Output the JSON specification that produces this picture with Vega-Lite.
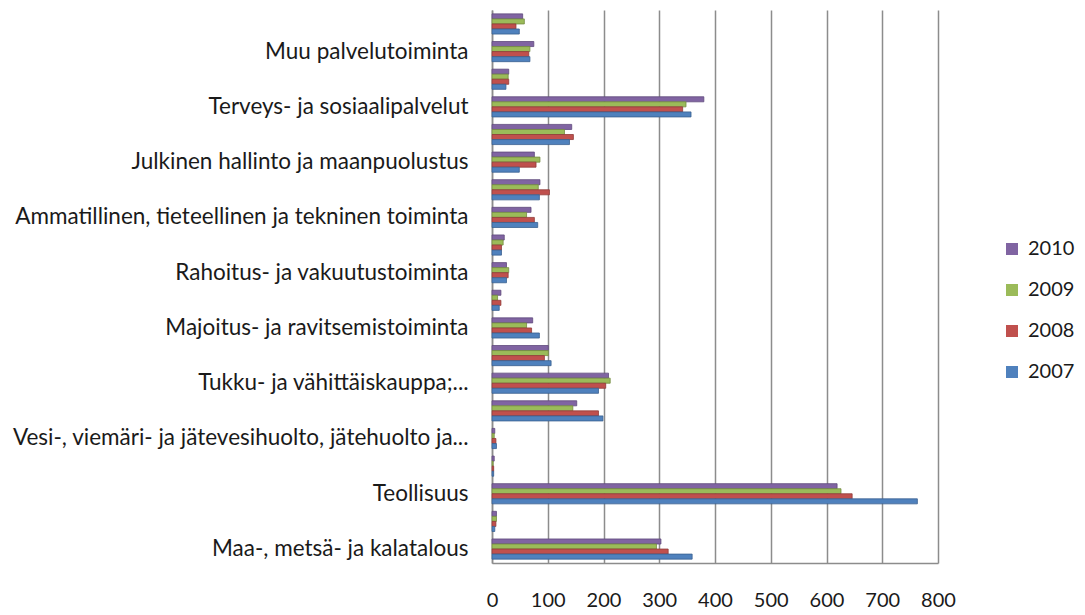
{
  "$schema": "https://vega.github.io/schema/vega-lite/v6.json",
  "autosize": "none",
  "padding": {"left": 492, "top": 10, "right": 147, "bottom": 52},
  "width": 446,
  "height": 553,
  "background": "white",
  "config": {
    "view": {"stroke": null},
    "font": "Lato",
    "axis": {"labelFont": "Lato", "labelColor": "#1a1a1a"},
    "legend": {"labelFont": "Lato", "labelColor": "#1a1a1a"}
  },
  "data": {
    "values": [
      {"toimiala": "Toimiala tuntematon", "vuosi": "2010", "arvo": 55},
      {"toimiala": "Toimiala tuntematon", "vuosi": "2009", "arvo": 58},
      {"toimiala": "Toimiala tuntematon", "vuosi": "2008", "arvo": 43},
      {"toimiala": "Toimiala tuntematon", "vuosi": "2007", "arvo": 49},
      {"toimiala": "Muu palvelutoiminta", "vuosi": "2010", "arvo": 75},
      {"toimiala": "Muu palvelutoiminta", "vuosi": "2009", "arvo": 68},
      {"toimiala": "Muu palvelutoiminta", "vuosi": "2008", "arvo": 66},
      {"toimiala": "Muu palvelutoiminta", "vuosi": "2007", "arvo": 68},
      {"toimiala": "Taiteet, viihde ja virkistys", "vuosi": "2010", "arvo": 30},
      {"toimiala": "Taiteet, viihde ja virkistys", "vuosi": "2009", "arvo": 29},
      {"toimiala": "Taiteet, viihde ja virkistys", "vuosi": "2008", "arvo": 30},
      {"toimiala": "Taiteet, viihde ja virkistys", "vuosi": "2007", "arvo": 25},
      {"toimiala": "Terveys- ja sosiaalipalvelut", "vuosi": "2010", "arvo": 380},
      {"toimiala": "Terveys- ja sosiaalipalvelut", "vuosi": "2009", "arvo": 348},
      {"toimiala": "Terveys- ja sosiaalipalvelut", "vuosi": "2008", "arvo": 342},
      {"toimiala": "Terveys- ja sosiaalipalvelut", "vuosi": "2007", "arvo": 357},
      {"toimiala": "Koulutus", "vuosi": "2010", "arvo": 143},
      {"toimiala": "Koulutus", "vuosi": "2009", "arvo": 130},
      {"toimiala": "Koulutus", "vuosi": "2008", "arvo": 146},
      {"toimiala": "Koulutus", "vuosi": "2007", "arvo": 139},
      {"toimiala": "Julkinen hallinto ja maanpuolustus", "vuosi": "2010", "arvo": 76},
      {"toimiala": "Julkinen hallinto ja maanpuolustus", "vuosi": "2009", "arvo": 86},
      {"toimiala": "Julkinen hallinto ja maanpuolustus", "vuosi": "2008", "arvo": 79},
      {"toimiala": "Julkinen hallinto ja maanpuolustus", "vuosi": "2007", "arvo": 49},
      {"toimiala": "Hallinto- ja tukipalvelutoiminta", "vuosi": "2010", "arvo": 86},
      {"toimiala": "Hallinto- ja tukipalvelutoiminta", "vuosi": "2009", "arvo": 83},
      {"toimiala": "Hallinto- ja tukipalvelutoiminta", "vuosi": "2008", "arvo": 103},
      {"toimiala": "Hallinto- ja tukipalvelutoiminta", "vuosi": "2007", "arvo": 85},
      {"toimiala": "Ammatillinen, tieteellinen ja tekninen toiminta", "vuosi": "2010", "arvo": 70},
      {"toimiala": "Ammatillinen, tieteellinen ja tekninen toiminta", "vuosi": "2009", "arvo": 62},
      {"toimiala": "Ammatillinen, tieteellinen ja tekninen toiminta", "vuosi": "2008", "arvo": 76},
      {"toimiala": "Ammatillinen, tieteellinen ja tekninen toiminta", "vuosi": "2007", "arvo": 82},
      {"toimiala": "Kiinteistöalan toiminta", "vuosi": "2010", "arvo": 22},
      {"toimiala": "Kiinteistöalan toiminta", "vuosi": "2009", "arvo": 20},
      {"toimiala": "Kiinteistöalan toiminta", "vuosi": "2008", "arvo": 17},
      {"toimiala": "Kiinteistöalan toiminta", "vuosi": "2007", "arvo": 17},
      {"toimiala": "Rahoitus- ja vakuutustoiminta", "vuosi": "2010", "arvo": 26},
      {"toimiala": "Rahoitus- ja vakuutustoiminta", "vuosi": "2009", "arvo": 30},
      {"toimiala": "Rahoitus- ja vakuutustoiminta", "vuosi": "2008", "arvo": 29},
      {"toimiala": "Rahoitus- ja vakuutustoiminta", "vuosi": "2007", "arvo": 26},
      {"toimiala": "Informaatio ja viestintä", "vuosi": "2010", "arvo": 16},
      {"toimiala": "Informaatio ja viestintä", "vuosi": "2009", "arvo": 10},
      {"toimiala": "Informaatio ja viestintä", "vuosi": "2008", "arvo": 16},
      {"toimiala": "Informaatio ja viestintä", "vuosi": "2007", "arvo": 13},
      {"toimiala": "Majoitus- ja ravitsemistoiminta", "vuosi": "2010", "arvo": 73},
      {"toimiala": "Majoitus- ja ravitsemistoiminta", "vuosi": "2009", "arvo": 62},
      {"toimiala": "Majoitus- ja ravitsemistoiminta", "vuosi": "2008", "arvo": 71},
      {"toimiala": "Majoitus- ja ravitsemistoiminta", "vuosi": "2007", "arvo": 85},
      {"toimiala": "Kuljetus ja varastointi", "vuosi": "2010", "arvo": 101},
      {"toimiala": "Kuljetus ja varastointi", "vuosi": "2009", "arvo": 101},
      {"toimiala": "Kuljetus ja varastointi", "vuosi": "2008", "arvo": 94},
      {"toimiala": "Kuljetus ja varastointi", "vuosi": "2007", "arvo": 106},
      {"toimiala": "Tukku- ja vähittäiskauppa;...", "vuosi": "2010", "arvo": 209},
      {"toimiala": "Tukku- ja vähittäiskauppa;...", "vuosi": "2009", "arvo": 212},
      {"toimiala": "Tukku- ja vähittäiskauppa;...", "vuosi": "2008", "arvo": 204},
      {"toimiala": "Tukku- ja vähittäiskauppa;...", "vuosi": "2007", "arvo": 191},
      {"toimiala": "Rakentaminen", "vuosi": "2010", "arvo": 152},
      {"toimiala": "Rakentaminen", "vuosi": "2009", "arvo": 145},
      {"toimiala": "Rakentaminen", "vuosi": "2008", "arvo": 191},
      {"toimiala": "Rakentaminen", "vuosi": "2007", "arvo": 199},
      {"toimiala": "Vesi-, viemäri- ja jätevesihuolto, jätehuolto ja...", "vuosi": "2010", "arvo": 5},
      {"toimiala": "Vesi-, viemäri- ja jätevesihuolto, jätehuolto ja...", "vuosi": "2009", "arvo": 4},
      {"toimiala": "Vesi-, viemäri- ja jätevesihuolto, jätehuolto ja...", "vuosi": "2008", "arvo": 7},
      {"toimiala": "Vesi-, viemäri- ja jätevesihuolto, jätehuolto ja...", "vuosi": "2007", "arvo": 8},
      {"toimiala": "Sähkö-, kaasu- ja lämpöhuolto", "vuosi": "2010", "arvo": 4},
      {"toimiala": "Sähkö-, kaasu- ja lämpöhuolto", "vuosi": "2009", "arvo": 2},
      {"toimiala": "Sähkö-, kaasu- ja lämpöhuolto", "vuosi": "2008", "arvo": 3},
      {"toimiala": "Sähkö-, kaasu- ja lämpöhuolto", "vuosi": "2007", "arvo": 3},
      {"toimiala": "Teollisuus", "vuosi": "2010", "arvo": 619},
      {"toimiala": "Teollisuus", "vuosi": "2009", "arvo": 626},
      {"toimiala": "Teollisuus", "vuosi": "2008", "arvo": 646},
      {"toimiala": "Teollisuus", "vuosi": "2007", "arvo": 763},
      {"toimiala": "Kaivostoiminta ja louhinta", "vuosi": "2010", "arvo": 8},
      {"toimiala": "Kaivostoiminta ja louhinta", "vuosi": "2009", "arvo": 8},
      {"toimiala": "Kaivostoiminta ja louhinta", "vuosi": "2008", "arvo": 7},
      {"toimiala": "Kaivostoiminta ja louhinta", "vuosi": "2007", "arvo": 5},
      {"toimiala": "Maa-, metsä- ja kalatalous", "vuosi": "2010", "arvo": 303},
      {"toimiala": "Maa-, metsä- ja kalatalous", "vuosi": "2009", "arvo": 295},
      {"toimiala": "Maa-, metsä- ja kalatalous", "vuosi": "2008", "arvo": 316},
      {"toimiala": "Maa-, metsä- ja kalatalous", "vuosi": "2007", "arvo": 359}
    ]
  },
  "mark": {"type": "bar", "strokeWidth": 0.8},
  "encoding": {
    "y": {
      "field": "toimiala",
      "type": "nominal",
      "sort": null,
      "scale": {"paddingInner": 0.27, "paddingOuter": 0.14},
      "axis": {
        "title": null,
        "ticks": false,
        "domain": true,
        "domainColor": "#8c8c8c",
        "domainWidth": 1.5,
        "grid": false,
        "labelFontSize": 22.5,
        "labelPadding": 24,
        "labelLimit": 600,
        "labelExpr": "(datum.value == 'Toimiala tuntematon' || datum.value == 'Taiteet, viihde ja virkistys' || datum.value == 'Koulutus' || datum.value == 'Hallinto- ja tukipalvelutoiminta' || datum.value == 'Kiinteistöalan toiminta' || datum.value == 'Informaatio ja viestintä' || datum.value == 'Kuljetus ja varastointi' || datum.value == 'Rakentaminen' || datum.value == 'Sähkö-, kaasu- ja lämpöhuolto' || datum.value == 'Kaivostoiminta ja louhinta') ? '' : datum.label"
      }
    },
    "yOffset": {
      "field": "vuosi",
      "type": "nominal",
      "scale": {"domain": ["2010", "2009", "2008", "2007"]}
    },
    "x": {
      "field": "arvo",
      "type": "quantitative",
      "scale": {"domain": [0, 800], "nice": false},
      "axis": {
        "title": null,
        "values": [0, 100, 200, 300, 400, 500, 600, 700, 800],
        "grid": true,
        "gridColor": "#8c8c8c",
        "gridWidth": 1.5,
        "domain": true,
        "domainColor": "#8c8c8c",
        "domainWidth": 1.5,
        "ticks": false,
        "labelFontSize": 20,
        "labelPadding": 27,
        "labelFlush": false
      }
    },
    "color": {
      "field": "vuosi",
      "type": "nominal",
      "scale": {
        "domain": ["2010", "2009", "2008", "2007"],
        "range": ["#8064A2", "#9BBB59", "#C0504D", "#4F81BD"]
      },
      "legend": {
        "title": null,
        "orient": "none",
        "legendX": 510,
        "legendY": 229,
        "symbolType": "square",
        "symbolSize": 144,
        "symbolStrokeWidth": 0,
        "labelFontSize": 20,
        "labelOffset": 6,
        "rowPadding": 21
      }
    },
    "stroke": {
      "field": "vuosi",
      "type": "nominal",
      "scale": {
        "domain": ["2010", "2009", "2008", "2007"],
        "range": ["#5f4a7c", "#738c40", "#913b39", "#3a6190"]
      },
      "legend": null
    }
  }
}
